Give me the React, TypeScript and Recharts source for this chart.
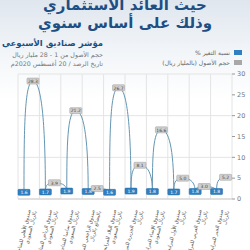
import { LineChart, Line, XAxis, YAxis, CartesianGrid, ReferenceLine } from 'recharts';

/* Data */

const FUNDS = [
  'صندوق الأهلي للمتاجرة|بالريال السعودي',
  'صندوق الرياض للمتاجرة|بالريال السعودي',
  'صندوق سامبا للمتاجرة|بالريال السعودي',
  'صندوق الراجحي للمضاربة|بالبضائع بالريال',
  'صندوق البلاد للمرابحة|بالريال السعودي',
  'صندوق الجزيرة للمرابحة|بالريال',
  'صندوق الإنماء للمرابحة|بالريال السعودي',
  'صندوق الأول للمرابحة|بالريال',
  'صندوق العربي للمرابحة|بالريال',
  'صندوق الخير للمرابحة|بالريال',
];

const CHANGE_PCT = [1.6, 1.7, 1.9, 1.8, 1.6, 1.9, 1.8, 1.7, 1.8, 1.8];
const ASSETS_BN = [28.3, 3.9, 21.2, 2.5, 26.7, 8.1, 16.6, 5.0, 3.0, 5.2];
const Y_TICKS = [0, 5, 10, 15, 20, 25, 30];

const NAVY = '#1f4f82';
const BLUE = '#2f7fc1';
const GRAY_BOX = '#cfcfcf';
const LINE = '#6496b2';
const GRID = '#e4e4e4';
const FONT = '"DejaVu Sans", sans-serif';

// each fund band holds the % change point then the assets point
const points = FUNDS.flatMap((_, i) => [
  { x: i + 0.28, value: CHANGE_PCT[i], kind: 'pct' },
  { x: i + 0.7, value: ASSETS_BN[i], kind: 'assets' },
]);

// "balloon" spline: vertical tangent leaving the low point, wide flat top at the high point
function balloonCurve(context: any) {
  let pts: [number, number][] = [];
  return {
    areaStart() {},
    areaEnd() {},
    lineStart() {
      pts = [];
    },
    point(x: number, y: number) {
      pts.push([+x, +y]);
    },
    lineEnd() {
      if (!pts.length) return;
      context.moveTo(pts[0][0], pts[0][1]);
      for (let i = 1; i < pts.length; i++) {
        const [x0, y0] = pts[i - 1];
        const [x1, y1] = pts[i];
        const dx = x1 - x0;
        const dy = y1 - y0;
        if (y1 < y0) {
          context.bezierCurveTo(x0, y0 + dy * 0.55, x1 - dx * 0.95, y1, x1, y1);
        } else {
          context.bezierCurveTo(x0 + dx * 0.75, y0, x1, y1 - dy * 0.55, x1, y1);
        }
      }
    },
  };
}

function PointBox(props: any) {
  const { cx, cy, payload, index } = props;
  if (cx == null || cy == null) return null;
  const pct = payload.kind === 'pct';
  return (
    <g key={`pt-${index}`}>
      <rect
        x={cx - 6}
        y={cy - 3}
        width={12}
        height={6}
        rx={0.8}
        fill={pct ? BLUE : GRAY_BOX}
        stroke={pct ? '#1d6aa8' : '#9a9a9a'}
        strokeWidth={0.5}
      />
      <text
        x={cx}
        y={cy + 1.8}
        textAnchor="middle"
        fontSize={4.5}
        fontFamily={FONT}
        fill={pct ? '#fff' : '#444'}
      >
        {payload.value.toFixed(1)}
      </text>
    </g>
  );
}

function FundTick({ x, y, payload }: any) {
  const idx = Math.floor(payload.value);
  const lines = (FUNDS[idx] ?? '').split('|');
  return (
    <g transform={`translate(${x + 2},${y + 3}) rotate(-76)`}>
      {lines.map((line, k) => (
        <text
          key={k}
          x={0}
          y={k * 6}
          textAnchor="end"
          fontSize={5}
          fontFamily={FONT}
          fill="#555"
        >
          {line}
        </text>
      ))}
    </g>
  );
}

export default function App() {
  return (
    <div
      style={{
        position: 'absolute',
        left: 0,
        top: 0,
        width: 250,
        height: 250,
        overflow: 'hidden',
        background: 'linear-gradient(180deg, #dfe6ee 0%, #f3f6f9 22%, #ffffff 40%)',
        fontFamily: FONT,
      }}
    >
      {/* title */}
      <div
        style={{
          position: 'absolute',
          left: 0,
          width: 250,
          top: -4,
          textAlign: 'center',
          direction: 'rtl',
          color: NAVY,
          fontWeight: 'bold',
          fontSize: 15,
          lineHeight: '18px',
          whiteSpace: 'nowrap',
        }}
      >
        <div>حيث العائد الاستثماري</div>
        <div>وذلك على أساس سنوي</div>
      </div>

      {/* subtitle block */}
      <div
        style={{
          position: 'absolute',
          left: 0,
          width: 103,
          top: 37,
          direction: 'rtl',
          textAlign: 'right',
          whiteSpace: 'nowrap',
        }}
      >
        <div style={{ color: NAVY, fontWeight: 'bold', fontSize: 8.5, lineHeight: '12px' }}>
          مؤشر صناديق الأسبوعي
        </div>
        <div style={{ color: '#777', fontSize: 6.3, lineHeight: '9px', marginTop: 1 }}>
          حجم الأصول من 1 - 28 مليار ريال
        </div>
        <div style={{ color: '#777', fontSize: 6.3, lineHeight: '9px' }}>
          تاريخ الرصد / 20 أغسطس 2020م
        </div>
      </div>

      {/* legend */}
      <div
        style={{
          position: 'absolute',
          right: 8,
          top: 47,
          direction: 'rtl',
          whiteSpace: 'nowrap',
          fontSize: 6,
          color: '#666',
        }}
      >
        <div style={{ display: 'flex', alignItems: 'center', height: 10 }}>
          <span style={{ width: 8, height: 5, background: BLUE, marginLeft: 4 }} />
          <span>نسبة التغير %</span>
        </div>
        <div style={{ display: 'flex', alignItems: 'center', height: 10 }}>
          <span style={{ width: 8, height: 5, background: '#a8a8a8', marginLeft: 4 }} />
          <span>حجم الأصول (بالمليار ريال)</span>
        </div>
      </div>

      <div style={{ position: 'absolute', left: 0, top: 70 }}>
        <LineChart
          width={250}
          height={180}
          data={points}
          margin={{ top: 4, right: 0, bottom: 0, left: 18 }}
        >
          <CartesianGrid stroke={GRID} vertical={false} />
          {FUNDS.map((_, i) => (
            <ReferenceLine key={i} x={i} stroke={GRID} />
          ))}
          <ReferenceLine x={FUNDS.length} stroke={GRID} />
          <XAxis
            type="number"
            dataKey="x"
            domain={[0, FUNDS.length]}
            ticks={FUNDS.map((_, i) => i + 0.5)}
            interval={0}
            tick={<FundTick />}
            tickLine={false}
            axisLine={{ stroke: '#cfcfcf' }}
            height={51}
          />
          <YAxis
            orientation="right"
            domain={[0, 30]}
            ticks={Y_TICKS}
            width={18}
            axisLine={false}
            tickLine={{ stroke: '#999' }}
            tickSize={3}
            tick={{ fontSize: 6.5, fill: '#777', fontFamily: FONT }}
          />
          <Line
            type={balloonCurve as any}
            dataKey="value"
            stroke={LINE}
            strokeWidth={1}
            dot={(p: any) => <PointBox {...p} />}
            activeDot={false}
            isAnimationActive={false}
          />
        </LineChart>
      </div>
    </div>
  );
}
